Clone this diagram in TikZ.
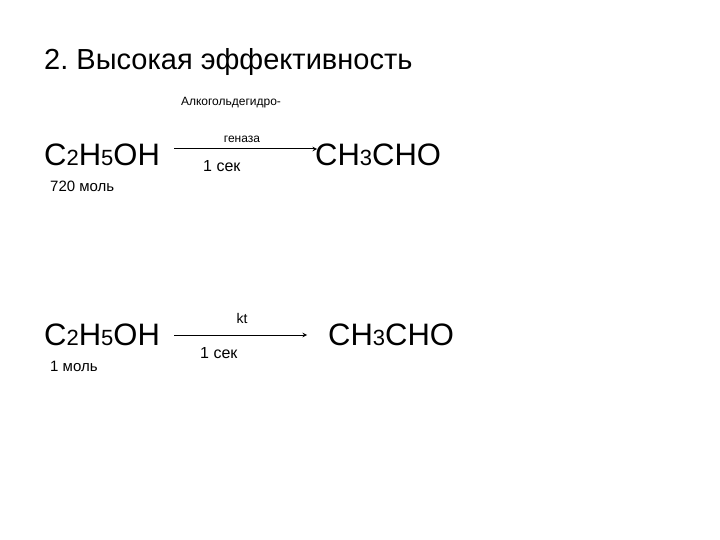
\documentclass[tikz,border=0pt]{standalone}
\usepackage{fontspec}
\setmainfont{Liberation Sans}
\frenchspacing
\begin{document}
\begin{tikzpicture}[x=1pt,y=-1pt,
  big/.style={font=\fontsize{31}{33}\selectfont,anchor=west,inner sep=0},
  small/.style={font=\fontsize{15}{17}\selectfont,anchor=west,inner sep=0},
  tiny/.style={font=\fontsize{12}{14}\selectfont,inner sep=0},
  arr/.style={-stealth,line width=1pt}]
\useasboundingbox (0,0) rectangle (720,540);
\node[anchor=west,inner sep=0,font=\fontsize{29}{31}\selectfont] (title) at (44,62) {2. Высокая эффективность};
\newcommand{\sm}[1]{{\fontsize{22}{24}\selectfont #1}}
% row 1
\node[big] (r1) at (44,155) {C\sm{2}H\sm{5}OH};
\node[small] (m1) at (50,186) {720 моль};
\node[tiny] (e1) at (231,103) {Алкогольдегидро-};
\node[tiny] (e2) at (242,139) {геназа};
\coordinate (a1) at (174,149);
\coordinate (b1) at (317,149);
\draw[arr] (a1) -- (b1);
\node[small,font=\fontsize{16}{18}\selectfont] (t1) at (203,166) {1 сек};
\node[big] (p1) at (315,155) {CH\sm{3}CHO};
% row 2
\node[big] (r2) at (44,335) {C\sm{2}H\sm{5}OH};
\node[small] (m2) at (50,366) {1 моль};
\node[tiny,font=\fontsize{14}{16}\selectfont] (k) at (242,318) {kt};
\coordinate (a2) at (174,335);
\coordinate (b2) at (307,335);
\draw[arr] (a2) -- (b2);
\node[small,font=\fontsize{16}{18}\selectfont] (t2) at (200,353) {1 сек};
\node[big] (p2) at (328,335) {CH\sm{3}CHO};
\end{tikzpicture}
\end{document}
